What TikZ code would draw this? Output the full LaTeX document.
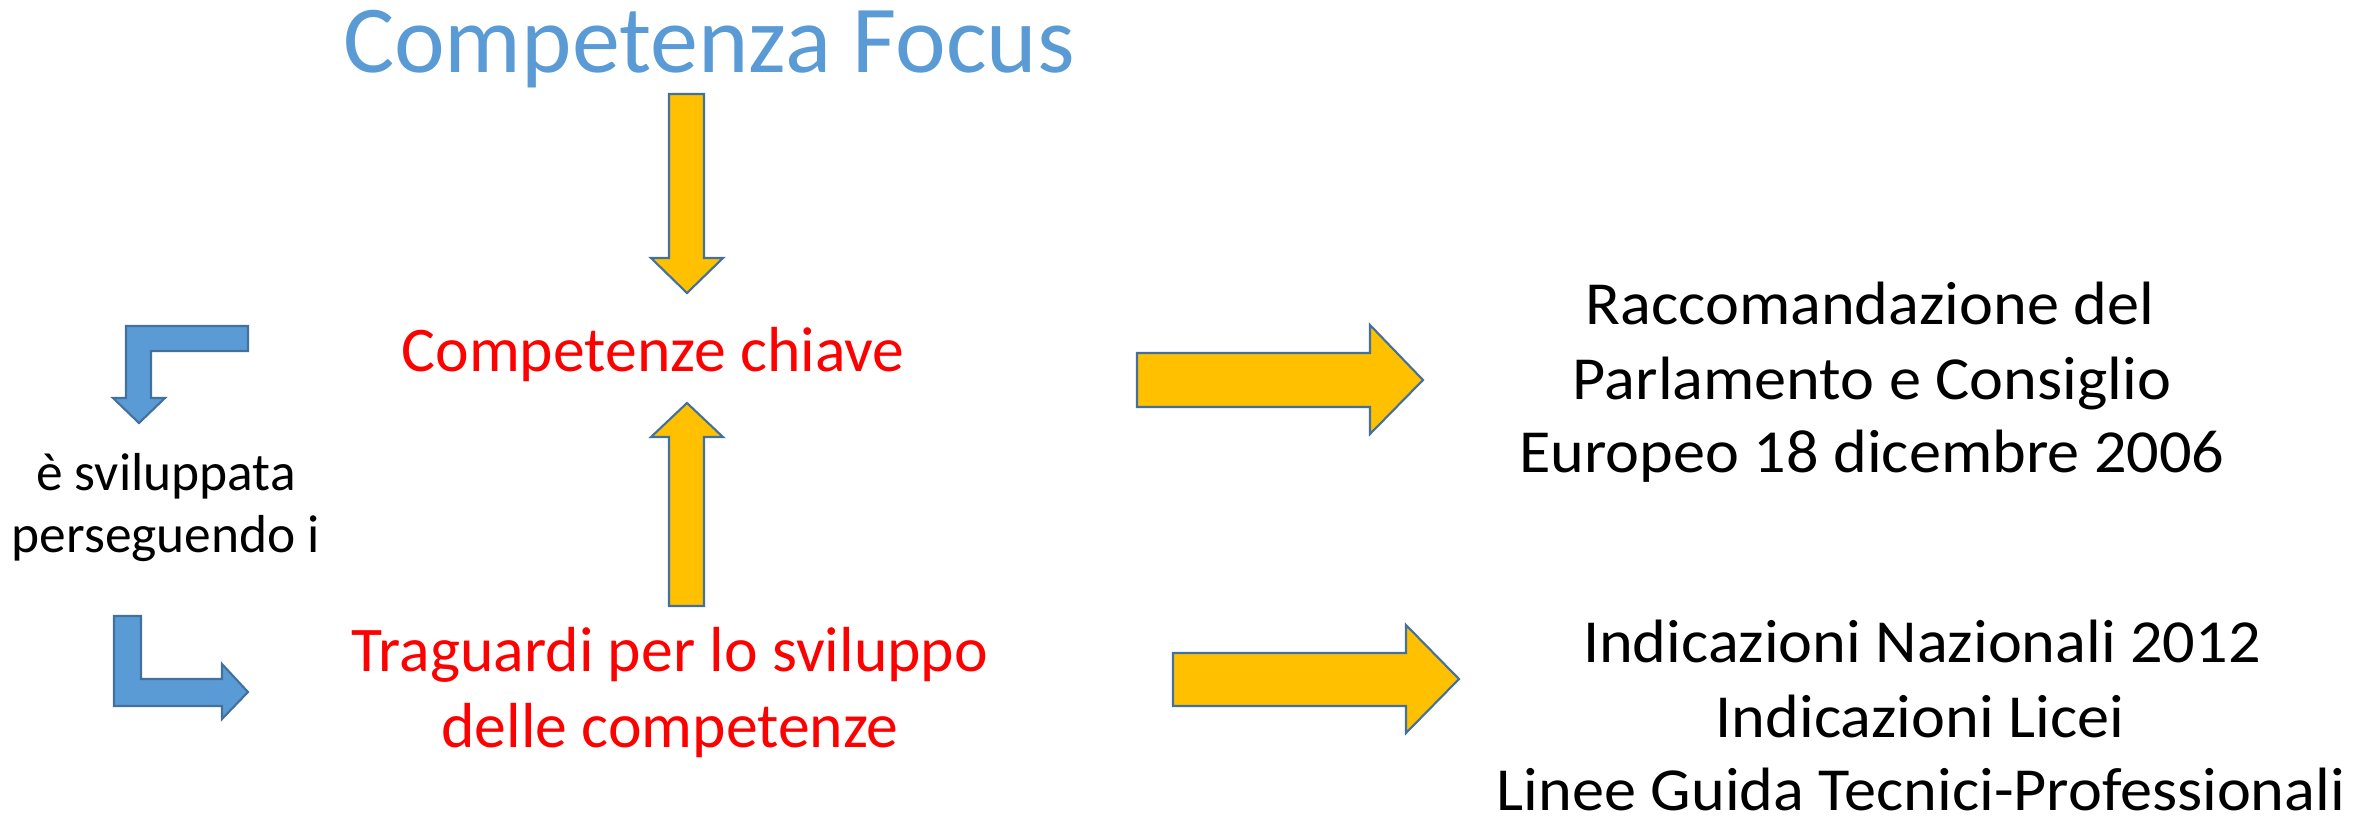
\documentclass[tikz,border=0pt]{standalone}
\usepackage{fontspec}
\setmainfont{Carlito}
\newfontfamily\wideish[FakeStretch=1.05]{Carlito}
\definecolor{titleblue}{HTML}{5B9BD5}
\definecolor{arrowfill}{HTML}{FFC000}
\definecolor{arrowline}{HTML}{41719C}
\definecolor{bluefill}{HTML}{5B9BD5}
\tikzset{
  orangearrow/.style={fill=arrowfill, draw=arrowline, line width=0.6pt, line join=miter},
  bluearrow/.style={fill=bluefill, draw=arrowline, line width=0.6pt, line join=miter},
  titletext/.style={anchor=base, inner sep=0pt, text=titleblue, font=\fontsize{27.3}{32}\selectfont},
  redtext/.style={anchor=base, inner sep=0pt, text=red, font=\fontsize{18.1}{22}\selectfont},
  lefttext/.style={anchor=base, inner sep=0pt, text=black, font=\fontsize{15.2}{18}\selectfont},
  righttext/.style={anchor=base, inner sep=0pt, text=black, font=\wideish\fontsize{17.4}{21}\selectfont}
}
\begin{document}
\begin{tikzpicture}[x=0.01cm, y=-0.01cm]
\useasboundingbox (0,0) rectangle (2374,820);
% title
\node[titletext] (title) at (709,72) {Competenza Focus};
% red texts
\node[redtext] (chiave) at (653,371) {Competenze chiave};
\node[redtext] (trag1) at (670,671) {Traguardi per lo sviluppo};
\node[redtext] (trag2) at (670,747) {delle competenze};
% left text
\node[lefttext] (sv1) at (166,490) {è sviluppata};
\node[lefttext] (sv2) at (166,552) {perseguendo i};
% right texts
\node[righttext] (racc1) at (1870,324) {Raccomandazione del};
\node[righttext] (racc2) at (1872,399) {Parlamento e Consiglio};
\node[righttext] (racc3) at (1872,472) {Europeo 18 dicembre 2006};
\node[righttext] (ind1) at (1922,662) {Indicazioni Nazionali 2012};
\node[righttext] (ind2) at (1920,737) {Indicazioni Licei};
\node[righttext, text depth=0pt] (ind3) at (1921,810) {Linee Guida Tecnici-Professionali};
% orange vertical arrows
\draw[orangearrow] (669,94) -- (704,94) -- (704,258) -- (723,258) -- (687,293) -- (651,258) -- (669,258) -- cycle;
\draw[orangearrow] (687,403) -- (723,437) -- (704,437) -- (704,606) -- (669,606) -- (669,437) -- (651,437) -- cycle;
% orange horizontal arrows
\draw[orangearrow] (1137,353) -- (1370,353) -- (1370,325) -- (1423,380) -- (1370,434) -- (1370,407) -- (1137,407) -- cycle;
\draw[orangearrow] (1173,653) -- (1406,653) -- (1406,625) -- (1459,679) -- (1406,733) -- (1406,706) -- (1173,706) -- cycle;
% blue bent arrows
\draw[bluearrow] (248,326) -- (126,326) -- (126,398) -- (113,398) -- (139,423) -- (165,398) -- (151,398) -- (151,351) -- (248,351) -- cycle;
\draw[bluearrow] (114,616) -- (141,616) -- (141,679) -- (222,679) -- (222,664) -- (248,692) -- (222,719) -- (222,706) -- (114,706) -- cycle;
\end{tikzpicture}
\end{document}
